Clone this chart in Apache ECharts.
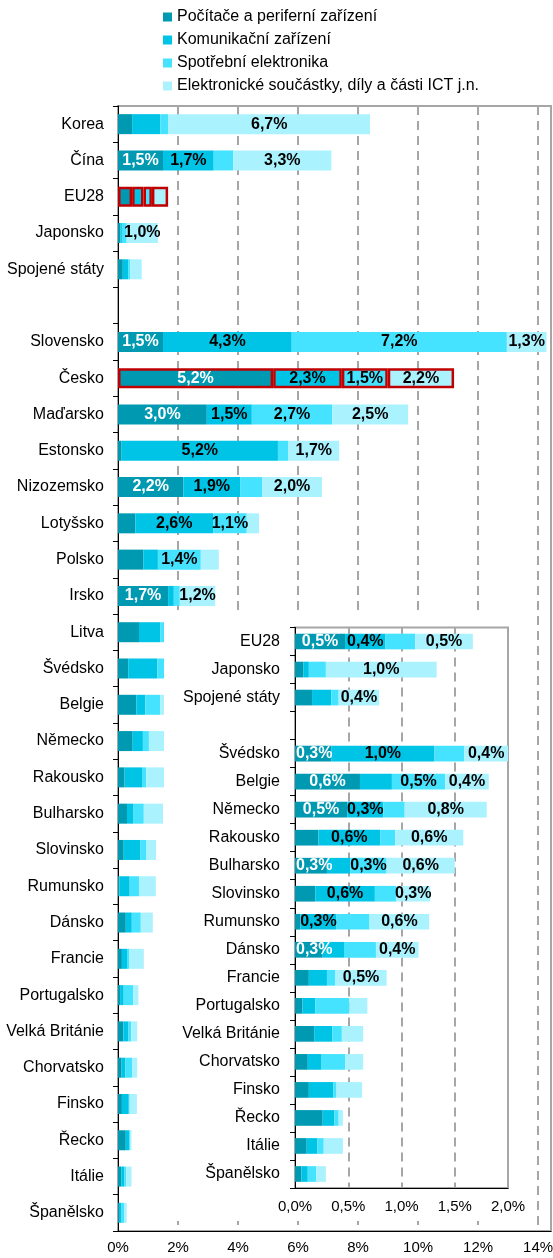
<!DOCTYPE html>
<html>
<head>
<meta charset="utf-8" />
<title>ICT export</title>
<script src="https://cdn.jsdelivr.net/npm/echarts@6/dist/echarts.min.js"></script>
<style>
  body { margin: 0; background: #fff; }
  #main { position: absolute; left: 0; top: 0; width: 553px; height: 1258px; }
  #inset { position: absolute; left: 164px; top: 611px; width: 366px; height: 610px; background: #fff; }
</style>
</head>
<body>
<div id="main"></div>
<div id="inset"></div>
<script type="text/javascript">
// data (% share)
var categories = ["Korea", "Čína", "EU28", "Japonsko", "Spojené státy", "",
  "Slovensko", "Česko", "Maďarsko", "Estonsko", "Nizozemsko", "Lotyšsko", "Polsko", "Irsko",
  "Litva", "Švédsko", "Belgie", "Německo", "Rakousko", "Bulharsko", "Slovinsko", "Rumunsko",
  "Dánsko", "Francie", "Portugalsko", "Velká Británie", "Chorvatsko", "Finsko", "Řecko",
  "Itálie", "Španělsko"];
var pcVals    = [0.47, 1.50, 0.47, 0.08, 0.16, null, 1.50, 5.17, 2.96, 0.12, 2.18, 0.58, 0.85, 1.67,
  0.70, 0.34, 0.61, 0.49, 0.22, 0.30, 0.19, 0.05, 0.26, 0.13, 0.07, 0.18, 0.12, 0.13, 0.26, 0.11, 0.06];
var commVals  = [0.94, 1.69, 0.38, 0.05, 0.18, null, 4.29, 2.29, 1.50, 5.21, 1.89, 2.59, 0.48, 0.19,
  0.71, 0.97, 0.30, 0.34, 0.58, 0.22, 0.56, 0.34, 0.20, 0.17, 0.12, 0.17, 0.13, 0.23, 0.11, 0.10, 0.06];
var spotVals  = [0.27, 0.65, 0.28, 0.16, 0.07, null, 7.17, 1.53, 2.68, 0.35, 0.73, 1.12, 1.43, 0.20,
  0.20, 0.28, 0.50, 0.20, 0.14, 0.34, 0.20, 0.31, 0.30, 0.08, 0.32, 0.09, 0.22, 0.03, 0.04, 0.06, 0.08];
var partsVals = [6.72, 3.27, 0.54, 1.04, 0.38, null, 1.32, 2.21, 2.53, 1.69, 2.00, 0.41, 0.60, 1.18,
  0.80, 0.41, 0.41, 0.77, 0.64, 0.64, 0.32, 0.56, 0.40, 0.48, 0.17, 0.20, 0.17, 0.24, 0.04, 0.18, 0.09];
var seriesNames = ["Počítače a periferní zařízení", "Komunikační zařízení",
  "Spotřební elektronika", "Elektronické součástky, díly a části ICT j.n."];
var redBoxed = ["Česko", "EU28"];

// inset (zoomed detail)
var insetCats = ["EU28", "Japonsko", "Spojené státy", "", "Švédsko", "Belgie", "Německo",
  "Rakousko", "Bulharsko", "Slovinsko", "Rumunsko", "Dánsko", "Francie", "Portugalsko",
  "Velká Británie", "Chorvatsko", "Finsko", "Řecko", "Itálie", "Španělsko"];
var pcLabelled    = ["EU28", "Švédsko", "Belgie", "Německo", "Bulharsko", "Dánsko"];
var commLabelled  = ["EU28", "Švédsko", "Německo", "Rakousko", "Slovinsko", "Rumunsko"];
var spotLabelled  = ["Belgie", "Bulharsko"];
var partsLabelled = ["EU28", "Japonsko", "Spojené státy", "Švédsko", "Belgie", "Německo",
  "Rakousko", "Bulharsko", "Slovinsko", "Rumunsko", "Dánsko", "Francie"];

var mainTicks = [0, 2, 4, 6, 8, 10, 12, 14];

var colors = ["#0099b2", "#00c4e6", "#45e3ff", "#abf2ff"];
var allVals = [pcVals, commVals, spotVals, partsVals];
var insetLabelled = [pcLabelled, commLabelled, spotLabelled, partsLabelled];
var FONT = "Liberation Sans, Arial, sans-serif";

function pct(v) {
  return v.toFixed(1).replace(".", ",") + "%";
}

var dashed = { show: true, lineStyle: { color: "#a6a6a6", width: 2, type: [9, 6] } };

// hlavni graf
var mainSeries = allVals.map(function (vals, i) {
  return {
    name: seriesNames[i],
    type: "bar",
    stack: "total",
    barWidth: 20,
    itemStyle: { color: colors[i] },
    label: {
      show: false,
      formatter: function (p) { return pct(p.value); },
      color: i === 0 ? "#fff" : "#000",
      fontWeight: "bold",
      fontSize: 16,
      fontFamily: FONT
    },
    data: vals.map(function (v, j) {
      if (v == null) return "-";
      var item = { value: v };
      if (v >= 1) item.label = { show: true };
      if (redBoxed.indexOf(categories[j]) >= 0) {
        item.itemStyle = { borderColor: "#c00000", borderWidth: 2.5 };
      }
      return item;
    })
  };
});

var mainChart = echarts.init(document.getElementById("main"));
mainChart.setOption({
  animation: false,
  textStyle: { fontFamily: FONT },
  legend: {
    orient: "vertical",
    left: 158,
    top: 4,
    itemWidth: 9,
    itemHeight: 9,
    itemGap: 7,
    icon: "rect",
    textStyle: { fontSize: 16, color: "#000", fontFamily: FONT },
    data: seriesNames
  },
  grid: {
    left: 118, right: 2, top: 106, bottom: 27,
    outerBoundsMode: "none",
    show: true, borderColor: "#a6a6a6", borderWidth: 2
  },
  xAxis: {
    type: "value",
    min: 0,
    max: 14.43,
    interval: 2,
    axisLine: { show: true, lineStyle: { color: "#000", width: 1 } },
    axisTick: { show: false },
    splitLine: dashed,
    axisLabel: {
      fontSize: 15, color: "#000", margin: 9,
      formatter: function (v) { return mainTicks.indexOf(v) >= 0 ? v + "%" : ""; }
    }
  },
  yAxis: {
    type: "category",
    inverse: true,
    data: categories,
    axisLine: { show: true, lineStyle: { color: "#000", width: 1 } },
    axisTick: { show: true, interval: 0, length: 5, lineStyle: { color: "#000" } },
    axisLabel: { interval: 0, fontSize: 16, color: "#000", margin: 14 }
  },
  series: mainSeries
});

// vlozeny graf
var insetSeries = allVals.map(function (vals, i) {
  return {
    name: seriesNames[i],
    type: "bar",
    stack: "total",
    barWidth: "56%",
    itemStyle: { color: colors[i] },
    label: {
      show: false,
      formatter: function (p) { return pct(p.value); },
      color: i === 0 ? "#fff" : "#000",
      fontWeight: "bold",
      fontSize: 16,
      fontFamily: FONT
    },
    data: insetCats.map(function (c) {
      var v = vals[categories.indexOf(c)];
      if (v == null) return "-";
      var item = { value: v };
      if (insetLabelled[i].indexOf(c) >= 0) {
        item.label = { show: true };
        if (i === 0 && v < 0.37) {
          item.label.position = "insideLeft";
          item.label.distance = 1;
        }
      }
      return item;
    })
  };
});

var insetChart = echarts.init(document.getElementById("inset"));
insetChart.setOption({
  animation: false,
  backgroundColor: "#fff",
  textStyle: { fontFamily: FONT },
  grid: {
    left: 131, right: 22, top: 16.5, bottom: 33,
    outerBoundsMode: "none",
    show: true, borderColor: "#a6a6a6", borderWidth: 2
  },
  xAxis: {
    type: "value",
    min: 0,
    max: 2,
    interval: 0.5,
    axisLine: { show: true, lineStyle: { color: "#000", width: 1 } },
    axisTick: { show: false },
    splitLine: dashed,
    axisLabel: { fontSize: 15, color: "#000", margin: 11, formatter: function (v) { return pct(v); } }
  },
  yAxis: {
    type: "category",
    inverse: true,
    data: insetCats,
    axisLine: { show: true, lineStyle: { color: "#000", width: 1 } },
    axisTick: { show: true, interval: 0, length: 5, lineStyle: { color: "#000" } },
    axisLabel: { interval: 0, fontSize: 16, color: "#000", margin: 15 }
  },
  series: insetSeries
});
</script>
</body>
</html>
